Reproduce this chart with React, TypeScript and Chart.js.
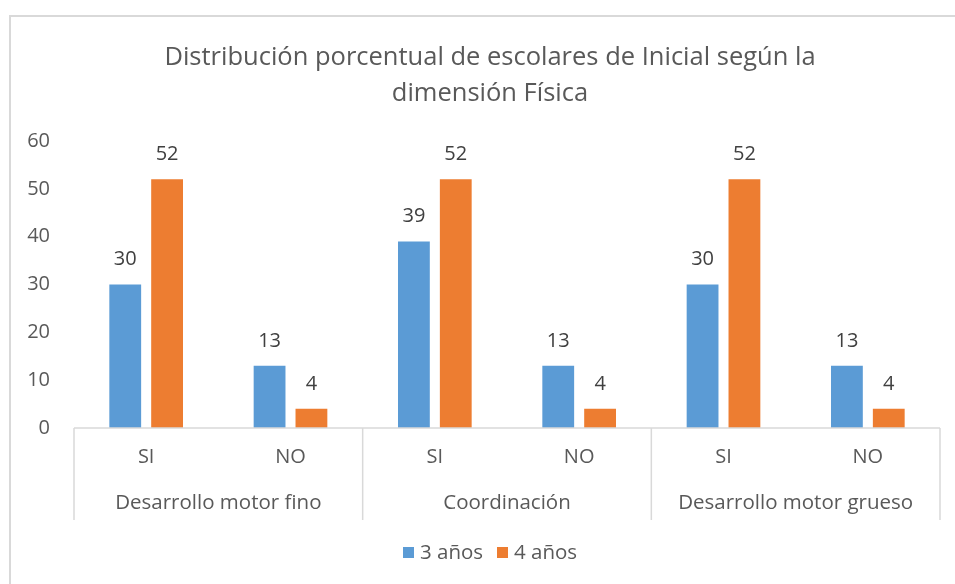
import React, { useEffect, useRef } from "react";
import { Chart, registerables } from "chart.js";

Chart.register(...registerables);

const titleLines = ["Distribución porcentual de escolares de Inicial según la", "dimensión Física"];
const categories = ["SI", "NO", "SI", "NO", "SI", "NO"];
const groups = ["Desarrollo motor fino", "Coordinación", "Desarrollo motor grueso"];
const series3 = [30, 13, 39, 13, 30, 13];
const series4 = [52, 4, 52, 4, 52, 4];
const seriesNames = ["3 años", "4 años"];
const colors = ["#5B9BD5", "#ED7D31"];
const yTicks = [0, 10, 20, 30, 40, 50, 60];

const FONT = "'Open Sans', 'Noto Sans', sans-serif";
const TEXT = "#595959";
const LINE = "#d9d9d9";

const decorPlugin = {
  id: "decor",
  beforeDraw(chart: any) {
    const ctx = chart.ctx;
    ctx.save();
    ctx.fillStyle = "#ffffff";
    ctx.fillRect(0, 0, chart.width, chart.height);
    ctx.strokeStyle = LINE;
    ctx.lineWidth = 2;
    ctx.strokeRect(10, 16, 2000, 2000);
    ctx.restore();
  },
  afterDraw(chart: any) {
    const ctx = chart.ctx;
    const x = chart.scales.x;
    const area = chart.chartArea;
    ctx.save();
    // title
    ctx.fillStyle = TEXT;
    ctx.font = `25.5px ${FONT}`;
    ctx.textAlign = "center";
    ctx.textBaseline = "middle";
    ctx.fillText(titleLines[0], 490, 58);
    ctx.fillText(titleLines[1], 490, 94);
    // axis line and separators
    ctx.strokeStyle = LINE;
    ctx.lineWidth = 1.5;
    ctx.beginPath();
    ctx.moveTo(area.left, area.bottom);
    ctx.lineTo(area.right, area.bottom);
    const n = categories.length;
    const step = (area.right - area.left) / n;
    for (let g = 0; g <= groups.length; g++) {
      const px = g < groups.length ? x.getPixelForValue(g * 2) - step / 2 : x.getPixelForValue(n - 1) + step / 2;
      ctx.moveTo(px, area.bottom);
      ctx.lineTo(px, area.bottom + 92);
    }
    ctx.stroke();
    // group labels
    ctx.fillStyle = TEXT;
    ctx.font = `20.5px ${FONT}`;
    groups.forEach((g, i) => {
      const cx = (x.getPixelForValue(i * 2) + x.getPixelForValue(i * 2 + 1)) / 2;
      ctx.fillText(g, cx, area.bottom + 75);
    });
    // data labels
    ctx.fillStyle = "#404040";
    ctx.font = `20px ${FONT}`;
    chart.data.datasets.forEach((ds: any, di: number) => {
      const meta = chart.getDatasetMeta(di);
      meta.data.forEach((bar: any, i: number) => {
        ctx.fillText(String(ds.data[i]), bar.x, bar.y - 25);
      });
    });
    // legend
    ctx.font = `20.5px ${FONT}`;
    ctx.textAlign = "left";
    const ly = 553;
    const items = [403, 497];
    seriesNames.forEach((name, i) => {
      ctx.fillStyle = colors[i];
      ctx.fillRect(items[i], ly - 6, 11, 11);
      ctx.fillStyle = TEXT;
      ctx.fillText(name, items[i] + 17, ly);
    });
    ctx.restore();
  },
};

export default function App() {
  const ref = useRef<HTMLCanvasElement>(null);
  useEffect(() => {
    if (!ref.current) return;
    const chart = new Chart(ref.current, {
      type: "bar",
      data: {
        labels: categories,
        datasets: [
          { label: seriesNames[0], data: series3, backgroundColor: colors[0], categoryPercentage: 0.58, barPercentage: 0.76 },
          { label: seriesNames[1], data: series4, backgroundColor: colors[1], categoryPercentage: 0.58, barPercentage: 0.76 },
        ],
      },
      options: {
        animation: false,
        responsive: true,
        maintainAspectRatio: false,
        layout: { padding: { left: 10, right: 15, top: 141, bottom: 61 } },
        plugins: { legend: { display: false }, title: { display: false }, tooltip: { enabled: false } },
        scales: {
          x: {
            grid: { display: false, drawTicks: false },
            border: { display: false },
            ticks: { color: TEXT, font: { family: FONT, size: 20 }, padding: 17, maxRotation: 0, autoSkip: false },
            afterFit(scale: any) { scale.height = 95; },
          },
          y: {
            min: 0,
            max: 60,
            grid: { display: false, drawTicks: false },
            border: { display: false },
            afterBuildTicks(scale: any) { scale.ticks = yTicks.map((v) => ({ value: v })); },
            ticks: { color: TEXT, font: { family: FONT, size: 20 }, padding: 24 },
            afterFit(scale: any) { scale.width = 64; },
          },
        },
      },
      plugins: [decorPlugin],
    });
    return () => chart.destroy();
  }, []);
  return (
    <div style={{ position: "fixed", left: 0, top: 0, width: 955, height: 584 }}>
      <canvas ref={ref} />
    </div>
  );
}
